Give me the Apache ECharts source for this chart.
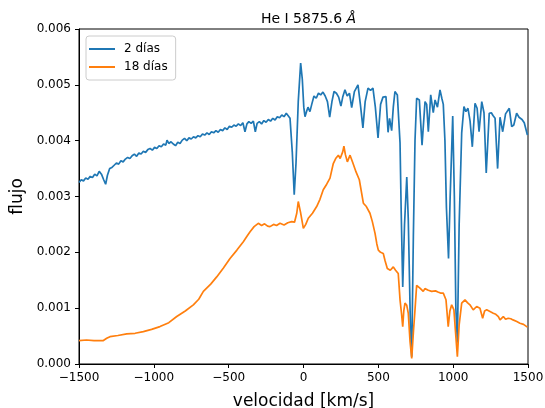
<!DOCTYPE html>
<html>
<head>
<meta charset="utf-8">
<script src="https://cdn.jsdelivr.net/npm/echarts@6/dist/echarts.min.js"></script>
<style>
html,body{margin:0;padding:0;background:#fff;}
#chart{width:545px;height:408px;}
</style>
</head>
<body>
<div id="chart"></div>
<script>
var titleText = 'He I 5875.6 ';
var titleUnit = 'Å';
var xLabel = 'velocidad [km/s]';
var yLabel = 'flujo';
var seriesNames = ['2 días', '18 días'];
var xTicks = [-1500, -1000, -500, 0, 500, 1000, 1500];
var yTicks = [0, 0.001, 0.002, 0.003, 0.004, 0.005, 0.006];

var vel2 = [-1500,-1485,-1470,-1455,-1440,-1425,-1410,-1395,-1380,-1365,-1350,-1335,-1322,-1310,-1295,-1280,-1265,-1250,-1235,-1220,-1205,-1190,-1175,-1160,-1145,-1130,-1115,-1100,-1085,-1070,-1055,-1040,-1025,-1010,-995,-980,-965,-950,-935,-920,-912,-900,-885,-870,-855,-840,-825,-810,-795,-780,-765,-750,-735,-720,-705,-690,-675,-660,-645,-630,-615,-600,-585,-570,-555,-540,-525,-510,-495,-480,-465,-450,-435,-420,-405,-391,-378,-365,-350,-335,-322,-310,-295,-280,-265,-250,-235,-220,-205,-190,-175,-160,-145,-130,-115,-102,-90,-75,-62,-50,-35,-19,-8,2,10,20,30,43,55,70,85,100,115,130,145,160,175,190,204,220,235,250,262,277,292,307,322,340,364,380,397,412,431,448,464,480,498,515,531,540,551,565,575,589,600,611,627,645,653,663,675,690,700,707,715,723,734,745,756,774,792,812,823,834,850,867,879,895,912,925,934,945,955,969,980,997,1008,1018,1028,1040,1057,1072,1085,1099,1113,1128,1146,1160,1173,1191,1206,1221,1241,1255,1266,1280,1297,1313,1331,1350,1375,1391,1405,1424,1440,1460,1475,1496];
var flux2 = [0.00325,0.00330,0.00328,0.00333,0.00331,0.00336,0.00334,0.00340,0.00337,0.00345,0.00340,0.00330,0.00322,0.00338,0.00350,0.00352,0.00356,0.00360,0.00358,0.00364,0.00362,0.00367,0.00370,0.00368,0.00373,0.00376,0.00372,0.00378,0.00376,0.00381,0.00379,0.00384,0.00386,0.00383,0.00388,0.00386,0.00391,0.00389,0.00394,0.00392,0.00401,0.00395,0.00398,0.00394,0.00391,0.00397,0.00395,0.00401,0.00404,0.00400,0.00405,0.00403,0.00407,0.00405,0.00409,0.00407,0.00412,0.00410,0.00414,0.00411,0.00416,0.00414,0.00418,0.00415,0.00420,0.00418,0.00423,0.00420,0.00426,0.00424,0.00428,0.00426,0.00430,0.00427,0.00432,0.00416,0.00430,0.00434,0.00431,0.00435,0.00416,0.00431,0.00434,0.00430,0.00436,0.00433,0.00438,0.00435,0.00440,0.00437,0.00443,0.00441,0.00446,0.00443,0.00449,0.00452,0.00440,0.00380,0.00303,0.00360,0.00470,0.00539,0.00510,0.00460,0.00443,0.00452,0.00460,0.00452,0.00465,0.00480,0.00476,0.00485,0.00482,0.00487,0.00480,0.00470,0.00442,0.00470,0.00488,0.00485,0.00478,0.00462,0.00478,0.00491,0.00480,0.00485,0.00459,0.00488,0.00500,0.00465,0.00423,0.00470,0.00494,0.00490,0.00494,0.00460,0.00405,0.00465,0.00478,0.00475,0.00479,0.00415,0.00440,0.00418,0.00460,0.00488,0.00482,0.00396,0.00270,0.00138,0.00250,0.00335,0.00260,0.00168,0.00060,0.00013,0.00228,0.00400,0.00476,0.00473,0.00392,0.00470,0.00465,0.00416,0.00482,0.00450,0.00473,0.00460,0.00491,0.00475,0.00465,0.00400,0.00280,0.00189,0.00300,0.00444,0.00300,0.00100,0.00038,0.00250,0.00414,0.00461,0.00452,0.00458,0.00435,0.00389,0.00467,0.00458,0.00416,0.00470,0.00450,0.00342,0.00449,0.00450,0.00445,0.00440,0.00350,0.00442,0.00416,0.00448,0.00458,0.00425,0.00428,0.00449,0.00442,0.00438,0.00432,0.00410];

var vel18 = [-1500,-1450,-1400,-1337,-1315,-1293,-1240,-1181,-1125,-1070,-1015,-959,-900,-847,-790,-736,-700,-669,-620,-580,-535,-491,-445,-402,-380,-357,-330,-302,-280,-260,-240,-224,-200,-180,-157,-130,-105,-79,-60,-45,-35,-20,-1,15,32,60,88,110,132,155,177,199,215,233,245,255,262,270,280,293,311,330,351,373,400,420,444,460,478,490,500,515,533,545,560,580,600,615,633,645,655,663,670,678,690,700,712,723,735,745,756,767,778,789,800,811,823,834,845,856,867,882,898,915,934,952,967,978,990,1005,1015,1028,1040,1057,1079,1095,1112,1134,1157,1179,1197,1210,1224,1246,1268,1285,1302,1313,1335,1350,1368,1385,1400,1425,1446,1470,1496];
var flux18 = [0.00042,0.00043,0.00042,0.00042,0.00046,0.00049,0.00051,0.00054,0.00055,0.00058,0.00062,0.00067,0.00074,0.00085,0.00095,0.00106,0.00116,0.00130,0.00143,0.00156,0.00172,0.00189,0.00204,0.00219,0.00228,0.00237,0.00246,0.00252,0.00248,0.00251,0.00247,0.00246,0.00250,0.00248,0.00252,0.00249,0.00253,0.00255,0.00254,0.00270,0.00291,0.00272,0.00243,0.00250,0.00261,0.00270,0.00282,0.00295,0.00312,0.00322,0.00333,0.00359,0.00368,0.00374,0.00368,0.00365,0.00380,0.00390,0.00375,0.00362,0.00374,0.00360,0.00344,0.00330,0.00288,0.00282,0.00270,0.00255,0.00234,0.00215,0.00204,0.00200,0.00198,0.00185,0.00171,0.00168,0.00174,0.00168,0.00162,0.00115,0.00090,0.00067,0.00095,0.00109,0.00105,0.00091,0.00040,0.00010,0.00060,0.00097,0.00141,0.00138,0.00136,0.00133,0.00130,0.00135,0.00138,0.00132,0.00133,0.00130,0.00133,0.00131,0.00129,0.00127,0.00127,0.00115,0.00067,0.00095,0.00106,0.00097,0.00060,0.00013,0.00070,0.00109,0.00115,0.00110,0.00106,0.00097,0.00103,0.00100,0.00082,0.00095,0.00097,0.00094,0.00091,0.00089,0.00085,0.00079,0.00085,0.00080,0.00082,0.00081,0.00079,0.00076,0.00073,0.00071,0.00066];

function pairs(xs, ys){ var out=[]; for (var i=0;i<xs.length;i++) out.push([xs[i], ys[i]]); return out; }
function fmtX(v){ return v < 0 ? '\u2212' + Math.abs(v) : String(v); }

var FONT = 'DejaVu Sans';
var chart = echarts.init(document.getElementById('chart'), null, {renderer:'canvas'});
chart.setOption({
  backgroundColor: '#fff',
  animation: false,
  title: {
    text: '{a|' + titleText + '}{b|' + titleUnit + '}',
    left: 303.5, top: 7, textAlign: 'center',
    textStyle: {
      rich: {
        a: {fontFamily: FONT, fontSize: 14, color: '#000', fontWeight: 'normal'},
        b: {fontFamily: FONT, fontSize: 14, color: '#000', fontStyle: 'italic', fontWeight: 'normal'}
      }
    }
  },
  legend: {
    left: 86, top: 36, orient: 'vertical',
    padding: [7, 8, 7, 3],
    itemGap: 6,
    itemWidth: 26, itemHeight: 2,
    icon: 'rect',
    borderColor: '#cccccc', borderWidth: 1, borderRadius: 3,
    backgroundColor: 'rgba(255,255,255,0.8)',
    textStyle: {fontFamily: FONT, fontSize: 12, color: '#000', padding: [0,0,0,4]},
    data: seriesNames
  },
  grid: {left: 79, right: 17, top: 29, bottom: 44, show: true, borderColor: '#000', borderWidth: 1,
         backgroundColor: 'transparent', containLabel: false, outerBoundsMode: 'none'},
  xAxis: {
    type: 'value', min: -1500, max: 1500, interval: 500,
    name: xLabel, nameLocation: 'middle', nameGap: 29,
    nameTextStyle: {fontFamily: FONT, fontSize: 17, color: '#000'},
    axisLine: {show: true, onZero: false, lineStyle: {color: '#000', width: 1}},
    axisTick: {show: true, length: 4, lineStyle: {color: '#000'}},
    axisLabel: {fontFamily: FONT, fontSize: 12, color: '#000', margin: 8, formatter: fmtX},
    splitLine: {show: false}
  },
  yAxis: {
    type: 'value', min: 0, max: 0.006, interval: 0.001,
    name: yLabel, nameLocation: 'middle', nameGap: 53,
    nameTextStyle: {fontFamily: FONT, fontSize: 17, color: '#000'},
    axisLine: {show: true, onZero: false, lineStyle: {color: '#000', width: 1}},
    axisTick: {show: true, length: 4, lineStyle: {color: '#000'}},
    axisLabel: {fontFamily: FONT, fontSize: 12, color: '#000', margin: 8, formatter: function(v){ return v.toFixed(3); }},
    splitLine: {show: false}
  },
  series: [
    {name: seriesNames[0], type: 'line', data: pairs(vel2, flux2), showSymbol: false, symbol: 'none',
     lineStyle: {color: '#1f77b4', width: 1.7}, itemStyle: {color: '#1f77b4'}},
    {name: seriesNames[1], type: 'line', data: pairs(vel18, flux18), showSymbol: false, symbol: 'none',
     lineStyle: {color: '#ff7f0e', width: 1.7}, itemStyle: {color: '#ff7f0e'}}
  ]
});
</script>
</body>
</html>
